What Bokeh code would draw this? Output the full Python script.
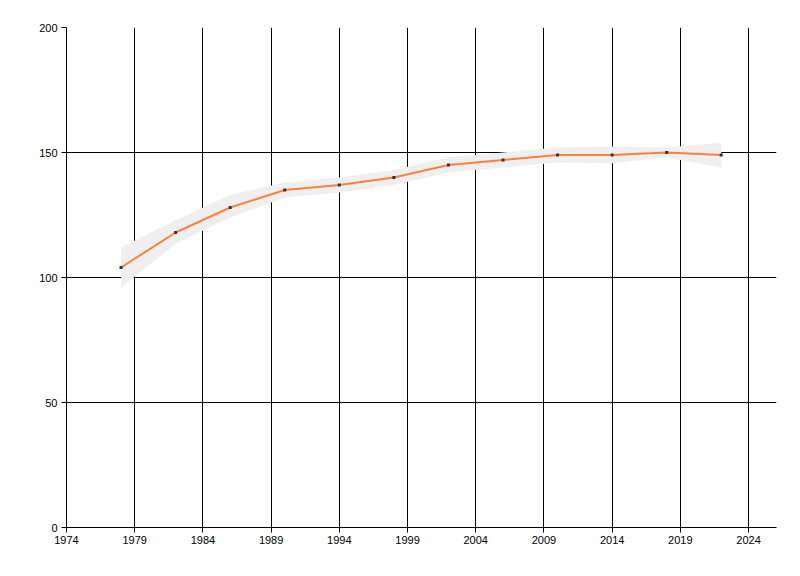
from bokeh.plotting import figure
from bokeh.models import FixedTicker, Range1d, ColumnDataSource
from bokeh.embed import file_html
from bokeh.resources import INLINE

years = [1978, 1982, 1986, 1990, 1994, 1998, 2002, 2006, 2010, 2014, 2018, 2022]
values = [104, 118, 128, 135, 137, 140, 145, 147, 149, 149, 150, 149]
lower = [96, 113.5, 124, 132, 134, 137, 142, 144, 146, 145.7, 148, 144]
upper = [112, 123, 133, 138, 140, 143, 148, 150, 152, 152.4, 152, 154]
x_ticks = [1974, 1979, 1984, 1989, 1994, 1999, 2004, 2009, 2014, 2019, 2024]
y_ticks = [0, 50, 100, 150, 200]

src = ColumnDataSource(dict(x=years, y=values, lo=lower, hi=upper))

p = figure(width=784, height=560, output_backend="svg", toolbar_location=None,
           x_range=Range1d(1974, 2026.05), y_range=Range1d(0, 200),
           min_border_left=66, min_border_right=8, min_border_top=27, min_border_bottom=33)
p.outline_line_color = None
p.background_fill_color = "white"
p.border_fill_color = "white"

for ax in (p.xaxis[0], p.yaxis[0]):
    ax.axis_line_color = "black"
    ax.major_tick_line_color = "black"
    ax.major_tick_out = 5
    ax.major_tick_in = 0
    ax.minor_tick_line_color = None
    ax.major_label_text_font = "Liberation Sans"
    ax.major_label_text_font_size = "11px"
    ax.major_label_text_color = "black"
p.xaxis.ticker = FixedTicker(ticks=x_ticks)
p.yaxis.ticker = FixedTicker(ticks=y_ticks)
p.xaxis.major_label_standoff = 3
p.yaxis.major_label_standoff = 4

p.xgrid.ticker = FixedTicker(ticks=x_ticks)
p.ygrid.ticker = FixedTicker(ticks=y_ticks)
p.grid.grid_line_color = "black"
p.grid.grid_line_width = 1
p.grid.grid_line_alpha = 1

p.varea(x="x", y1="lo", y2="hi", source=src, fill_color="#efefef")
p.line(x="x", y="y", source=src, line_color="#ff7f3f", line_width=2)
p.scatter(x="x", y="y", source=src, size=3, marker="square", fill_color="#333333", line_color=None)

open("out.html", "w").write(file_html(p, INLINE))
